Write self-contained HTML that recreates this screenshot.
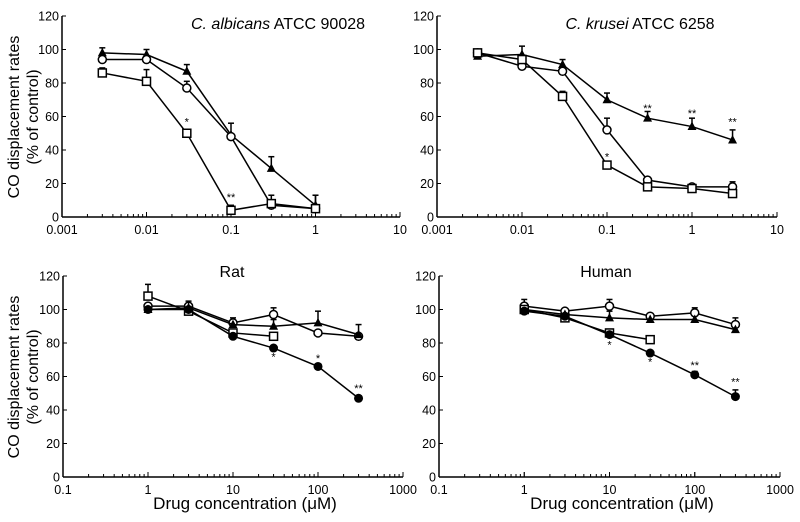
<!DOCTYPE html>
<html><head><meta charset="utf-8"><style>
html,body{margin:0;padding:0;background:#fff;}
svg{display:block;font-family:"Liberation Sans",Arial,sans-serif;}
</style></head><body>
<svg id="fig" width="800" height="522" viewBox="0 0 800 522" xmlns="http://www.w3.org/2000/svg"></svg>
<script>
// Panel A: C. albicans
const xA = [0.003,0.01,0.03,0.1,0.3,1];
const aTri = [98,97,87,49,29,7];
const aTriErr = [3,3,4,7,7,6];
const aCirc = [94,94,77,48,7,5];
const aCircErr = [0,0,4,0,0,0];
const aSq = [86,81,50,4,8,5];
const aSqErr = [3,7,2,3,5,8];
// Panel B: C. krusei
const xB = [0.003,0.01,0.03,0.1,0.3,1,3];
const bTri = [96,97,91,70,59,54,46];
const bTriErr = [0,5,3,4,4,5,6];
const bCirc = [98,90,87,52,22,18,18];
const bCircErr = [0,0,0,7,0,0,3];
const bSq = [98,94,72,31,18,17,14];
const bSqErr = [0,0,3,0,0,0,0];
// Panel C: Rat
const xC = [1,3,10,30,100,300];
const cOC = [102,102,92,97,86,84];
const cOCErr = [0,0,3,4,0,0];
const cTri = [100,101,91,90,92,85];
const cTriErr = [0,0,0,4,7,6];
const cSq = [108,99,86,84];
const cSqErr = [7,6,0,0];
const cFC = [100,100,84,77,66,47];
const cFCErr = [0,0,0,0,0,0];
// Panel D: Human
const xD = [1,3,10,30,100,300];
const dOC = [102,99,102,96,98,91];
const dOCErr = [4,0,4,0,3,4];
const dTri = [100,97,95,94,94,88];
const dTriErr = [0,0,4,0,0,0];
const dSq = [100,95,86,82];
const dSqErr = [0,0,2,0];
const dFC = [99,96,85,74,61,48];
const dFCErr = [0,0,0,0,2,4];
const yTicks = [0,20,40,60,80,100,120];
const xTicksTop = ["0.001","0.01","0.1","1","10"];
const xTicksBot = ["0.1","1","10","100","1000"];

const NS="http://www.w3.org/2000/svg";
const svg=document.getElementById('fig');
function mk(tag,attrs,parent){const e=document.createElementNS(NS,tag);for(const k in attrs)e.setAttribute(k,attrs[k]);(parent||svg).appendChild(e);return e;}

function panel(p){
  const g=mk('g',{});
  
  
  const x0=p.x0,x1=p.x1,yb=p.yb,yt=p.yt;
  const lmin=Math.log10(p.xmin),lmax=Math.log10(p.xmax);
  const sx=v=>x0+(Math.log10(v)-lmin)/(lmax-lmin)*(x1-x0);
  const sy=v=>yb-(v/120)*(yb-yt);
  const ya=mk('line',{x1:x0,y1:yt,x2:x0,y2:yb,stroke:'#000','stroke-width':1.5},g);
  
  const xa=mk('line',{x1:x0,y1:yb,x2:x1,y2:yb,stroke:'#000','stroke-width':1.5},g);
  
  yTicks.forEach(t=>{
    mk('line',{x1:x0,y1:sy(t),x2:x0+4,y2:sy(t),stroke:'#000'},g);
    const tx=mk('text',{x:x0-3,y:sy(t)+4.5,'text-anchor':'end','font-size':12.5},g);
    tx.textContent=t;
    
  });
  for(let d=lmin;d<lmax;d++){
    for(let m=1;m<=10;m++){
      const v=Math.pow(10,d)*m;const X=sx(v);
      mk('line',{x1:X,y1:yb,x2:X,y2:yb-(m===1||m===10?5:3),stroke:'#000'},g);
    }
  }
  p.ticks.forEach((t,i)=>{
    const tx=mk('text',{x:x0+i*(x1-x0)/(p.ticks.length-1),y:yb+17,'text-anchor':'middle','font-size':12.5},g);
    tx.textContent=t;
    
  });
  const tt=mk('text',{x:p.tx,y:p.ty,'text-anchor':'middle','font-size':16},g);
  
  if(p.italic){const s=mk('tspan',{'font-style':'italic'},tt);s.textContent=p.italic;const s2=mk('tspan',{},tt);s2.textContent=p.title;}
  else tt.textContent=p.title;
  p.series.forEach(s=>{
    const sg=mk('g',{},g);
    
    const pts=s.y.map((v,i)=>sx(p.xs[i])+','+sy(v)).join(' ');
    mk('polyline',{points:pts,fill:'none',stroke:'#000','stroke-width':1.5},sg);
    s.y.forEach((v,i)=>{
      const X=sx(p.xs[i]),Y=sy(v),e=s.err[i];
      if(e>0){
        mk('line',{x1:X,y1:Y,x2:X,y2:sy(v+e),stroke:'#000','stroke-width':1.5},sg);
        mk('line',{x1:X-3,y1:sy(v+e),x2:X+3,y2:sy(v+e),stroke:'#000','stroke-width':1.5},sg);
      }
      let m;
      if(s.type==='tri') m=mk('polygon',{points:`${X},${Y-5} ${X-4.5},${Y+3.5} ${X+4.5},${Y+3.5}`,fill:'#000'},sg);
      else if(s.type==='sq') m=mk('rect',{x:X-4,y:Y-4,width:8,height:8,fill:'#fff',stroke:'#000','stroke-width':1.5},sg);
      else if(s.type==='oc') m=mk('circle',{cx:X,cy:Y,r:4,fill:'#fff',stroke:'#000','stroke-width':1.5},sg);
      else m=mk('circle',{cx:X,cy:Y,r:4.5,fill:'#000'},sg);
      
    });
  });
  (p.stars||[]).forEach(st=>{
    const t=mk('text',{x:sx(st[0]),y:sy(st[1])+4,'text-anchor':'middle','font-size':11},g);
    t.textContent=st[2];
    
  });
}

panel({name:'panel-c-albicans',x0:62,x1:400,yb:217,yt:16,xmin:0.001,xmax:10,ticks:xTicksTop,xs:xA,
  tx:278,ty:29,italic:'C. albicans',title:' ATCC 90028',
  series:[{name:'series-triangle',type:'tri',y:aTri,err:aTriErr},{name:'series-open-circle',type:'oc',y:aCirc,err:aCircErr},{name:'series-square',type:'sq',y:aSq,err:aSqErr}],
  stars:[[0.03,57,'*'],[0.1,12,'**']]});
panel({name:'panel-c-krusei',x0:437,x1:777,yb:217,yt:16,xmin:0.001,xmax:10,ticks:xTicksTop,xs:xB,
  tx:640,ty:29,italic:'C. krusei',title:' ATCC 6258',
  series:[{name:'series-triangle',type:'tri',y:bTri,err:bTriErr},{name:'series-open-circle',type:'oc',y:bCirc,err:bCircErr},{name:'series-square',type:'sq',y:bSq,err:bSqErr}],
  stars:[[0.1,36,'*'],[0.3,65,'**'],[1,62,'**'],[3,57,'**']]});
panel({name:'panel-rat',x0:63,x1:403,yb:477,yt:276,xmin:0.1,xmax:1000,ticks:xTicksBot,xs:xC,
  tx:232,ty:277,title:'Rat',
  series:[{name:'series-open-circle',type:'oc',y:cOC,err:cOCErr},{name:'series-triangle',type:'tri',y:cTri,err:cTriErr},{name:'series-square',type:'sq',y:cSq,err:cSqErr},{name:'series-filled-circle',type:'fc',y:cFC,err:cFCErr}],
  stars:[[30,72,'*'],[100,71,'*'],[300,53,'**']]});
panel({name:'panel-human',x0:439,x1:780,yb:477,yt:276,xmin:0.1,xmax:1000,ticks:xTicksBot,xs:xD,
  tx:606,ty:277,title:'Human',
  series:[{name:'series-open-circle',type:'oc',y:dOC,err:dOCErr},{name:'series-triangle',type:'tri',y:dTri,err:dTriErr},{name:'series-square',type:'sq',y:dSq,err:dSqErr},{name:'series-filled-circle',type:'fc',y:dFC,err:dFCErr}],
  stars:[[10,79,'*'],[30,69,'*'],[100,67,'**'],[300,57,'**']]});

[[117,'top'],[377,'bottom']].forEach(([cy,k])=>{
  const t=mk('text',{transform:`translate(19,${cy}) rotate(-90)`,'text-anchor':'middle','font-size':16});
  
  t.textContent='CO displacement rates';
  const t2=mk('text',{transform:`translate(38,${cy}) rotate(-90)`,'text-anchor':'middle','font-size':16});
  
  t2.textContent='(% of control)';
});
[[245],[622]].forEach(([cx],i)=>{
  const t=mk('text',{x:cx,y:509,'text-anchor':'middle','font-size':17});
  
  t.textContent='Drug concentration (μM)';
});
</script>
</body></html>
